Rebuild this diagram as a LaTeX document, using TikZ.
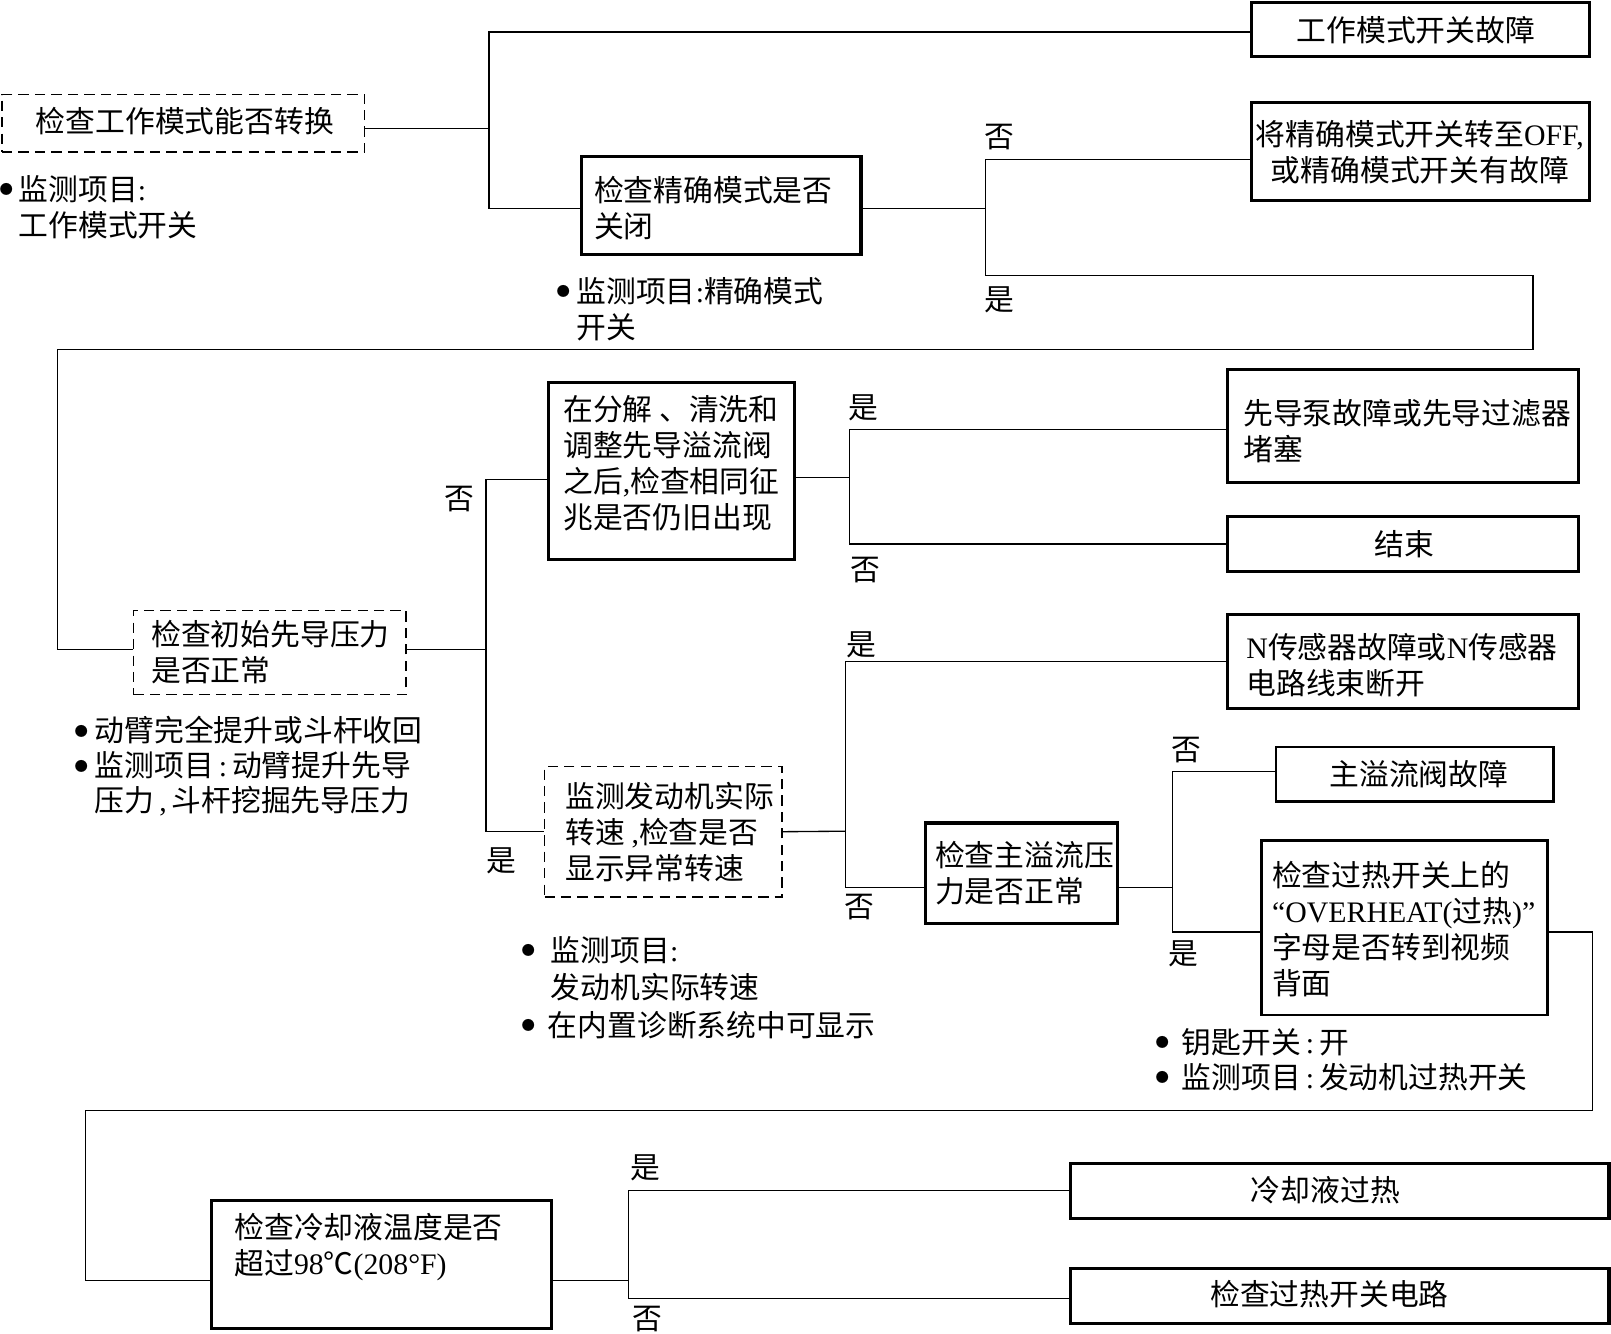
\documentclass[tikz,border=0pt]{standalone}
\usepackage{fontspec}
\setmainfont{Noto Sans CJK SC}
\newfontfamily\lat{Liberation Serif}
\newcommand\bu[1]{\makebox[0pt][c]{\smash{\raisebox{\dimexpr 10.5pt-0.5\height+0.5\depth\relax}{\fontsize{13}{13}\selectfont ●}}}\hspace*{#1}}
\begin{document}
\begin{tikzpicture}[x=1pt,y=-1pt,
  conn/.style={line width=1.3pt},
  tbox/.style={draw, line width=3pt, inner sep=0pt},
  dbox/.style={draw, line width=1.3pt, dash pattern=on 10pt off 6pt, inner sep=0pt},
  txt/.style={inner sep=0pt, font=\fontsize{29}{35}\selectfont, align=left, anchor=west},
  ctxt/.style={inner sep=0pt, font=\fontsize{29}{35}\selectfont, align=center},
  lbl/.style={inner sep=0pt, font=\fontsize{29}{35}\selectfont}]
\useasboundingbox (0,0) rectangle (1568,1298);

% ---------- boxes ----------
\node[dbox, minimum width=353pt, minimum height=56pt] (A) at (178.5,120) {};
\node[tbox, minimum width=329pt, minimum height=53pt] (B1) at (1382.5,28.5) {};
\node[tbox, minimum width=272pt, minimum height=96pt] (B2) at (702,200) {};
\node[tbox, minimum width=329pt, minimum height=95pt] (C1) at (1382.5,147.5) {};
\node[dbox, minimum width=265pt, minimum height=82pt] (D) at (262.5,635) {};
\node[tbox, minimum width=239pt, minimum height=173pt] (E) at (653.5,458.5) {};
\node[tbox, minimum width=341pt, minimum height=110pt] (G1) at (1365.5,415) {};
\node[tbox, minimum width=341pt, minimum height=53pt] (G2) at (1365.5,529.5) {};
\node[dbox, minimum width=231pt, minimum height=127pt] (F) at (645.5,809.5) {};
\node[tbox, minimum width=341pt, minimum height=92pt] (H1) at (1365.5,644) {};
\node[tbox, minimum width=187pt, minimum height=98pt] (I) at (994.5,850) {};
\node[tbox, line width=2.6pt, minimum width=270pt, minimum height=53pt] (J1) at (1377,753.5) {};
\node[tbox, line width=2.6pt, minimum width=278pt, minimum height=170pt] (J2) at (1367,903) {};
\node[tbox, minimum width=331pt, minimum height=125pt] (K) at (371.5,1230.5) {};
\node[tbox, minimum width=524pt, minimum height=54pt] (L1) at (1304,1159) {};
\node[tbox, minimum width=524pt, minimum height=53pt] (L2) at (1304,1261.5) {};

% ---------- box texts ----------
\node[ctxt] (At) at (180,118) {检查工作模式能否转换};
\node[ctxt] (B1t) at (1378,29) {工作模式开关故障};
\node[txt] (B2t) at (578,202.5) {检查精确模式是否\\关闭};
\node[ctxt] (C1t) at (1382,148) {将精确模式开关转至{\lat OFF,}\\或精确模式开关有故障};
\node[txt] (Dt) at (147,634.5) {检查初始先导压力\\是否正常};
\node[txt] (Et) at (548,451) {在分解 、清洗和\\调整先导溢流阀\\之后{\lat ,}检查相同征\\兆是否仍旧出现};
\node[txt] (G1t) at (1210,419.5) {先导泵故障或先导过滤器\\堵塞};
\node[ctxt] (G2t) at (1367,530) {结束};
\node[txt] (Ft) at (550,809.5) {监测发动机实际\\转速 {\lat ,}检查是否\\显示异常转速};
\node[txt] (H1t) at (1213,647) {{\lat N}传感器故障或{\lat N}传感器\\电路线束断开};
\node[txt] (It) at (910,849.5) {检查主溢流压\\力是否正常};
\node[ctxt] (J1t) at (1381,753) {主溢流阀故障};
\node[txt] (J2t) at (1238,904) {检查过热开关上的\\{\lat “OVERHEAT(}过热{\lat )”}\\字母是否转到视频\\背面};
\node[txt] (Kt) at (228,1214) {检查冷却液温度是否\\超过{\lat 98}℃{\lat (208°F)}};
\node[ctxt] (L1t) at (1290,1158) {冷却液过热};
\node[ctxt] (L2t) at (1294,1260) {检查过热开关电路};

% ---------- notes ----------
\node[txt] (nA) at (6,201.5) {\bu{12pt}监测项目{\lat :}\\\hspace*{12pt}工作模式开关};
\node[txt] (nB) at (548,301) {\bu{13pt}监测项目{\lat :}精确模式\\\hspace*{13pt}开关};
\node[txt, font=\fontsize{29}{34}\selectfont] (nD) at (79,746) {\bu{13pt}动臂完全提升或斗杆收回\\\bu{13pt}监测项目{\lat\,:\,}动臂提升先导\\\hspace*{13pt}压力{\lat\,,\,}斗杆挖掘先导压力};
\node[txt, font=\fontsize{29}{36.5}\selectfont] (nF) at (514,961.3) {\bu{22pt}监测项目{\lat :}\\\hspace*{22pt}发动机实际转速\\\bu{19pt}在内置诊断系统中可显示};
\node[txt, font=\fontsize{29}{34}\selectfont] (nJ) at (1131,1031) {\bu{19pt}钥匙开关{\lat\,:\,}开\\\bu{19pt}监测项目{\lat\,:\,}发动机过热开关};

% ---------- junctions ----------
\coordinate (jA) at (476,125);
\coordinate (jB) at (959,203);
\coordinate (r1) at (1492,268);
\coordinate (l1) at (56,340);
\coordinate (jD) at (473,632);
\coordinate (jE) at (827,465);
\coordinate (jF) at (823,809);
\coordinate (jI) at (1141,864);
\coordinate (r2) at (1550,907);
\coordinate (l2) at (83,1081);
\coordinate (jK) at (612,1246);

% ---------- connectors ----------
\draw[conn] ([yshift=-5pt]A.east) -- (jA);
\draw[conn] ([yshift=-2.5pt]B1.west) -| (jA) |- ([yshift=-3pt]B2.west);

\draw[conn] ([yshift=-3pt]B2.east) -- (jB);
\draw[conn] ([yshift=-7.5pt]C1.west) -| (jB) |- (r1) |- (l1) |- ([yshift=3pt]D.west);

\draw[conn] ([yshift=3pt]D.east) -- (jD);
\draw[conn] ([yshift=-8.5pt]E.west) -| (jD) |- (F.west);

\draw[conn] ([yshift=-6.5pt]E.east) -- (jE);
\draw[conn] ([yshift=-3pt]G1.west) -| (jE) |- (G2.west);

\draw[conn] (F.east) -- (jF);
\draw[conn] (H1.west) -| (jF) |- ([yshift=-14pt]I.west);

\draw[conn] ([yshift=-14pt]I.east) -- (jI);
\draw[conn] ([yshift=2.5pt]J1.west) -| (jI) |- ([yshift=-4pt]J2.west);

\draw[conn] ([yshift=-4pt]J2.east) -- (r2) |- (l2) |- ([yshift=-15.5pt]K.west);

\draw[conn] ([yshift=-15.5pt]K.east) -- (jK);
\draw[conn] (L1.west) -| (jK) |- ([yshift=-2.5pt]L2.west);

% ---------- branch labels ----------
\node[lbl] (y1) at (973,133) {否};
\node[lbl] (y2) at (973,292) {是};
\node[lbl] (y3) at (447,486) {否};
\node[lbl] (y4) at (488,838) {是};
\node[lbl] (y5) at (840,397) {是};
\node[lbl] (y6) at (842,555) {否};
\node[lbl] (y7) at (838,628) {是};
\node[lbl] (y8) at (836,883) {否};
\node[lbl] (y9) at (1155,730) {否};
\node[lbl] (y10) at (1152,928) {是};
\node[lbl] (y11) at (628,1137) {是};
\node[lbl] (y12) at (630,1284) {否};
\end{tikzpicture}
\end{document}
